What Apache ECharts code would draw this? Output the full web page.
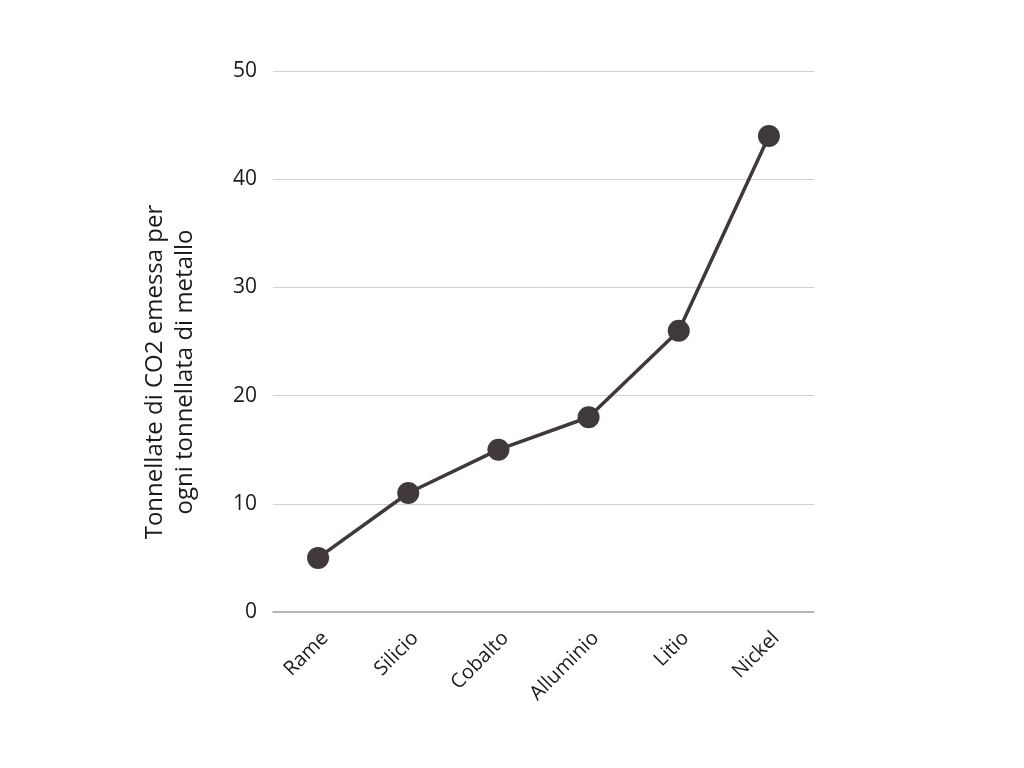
<!DOCTYPE html>
<html><head><meta charset="utf-8">
<script src="https://cdn.jsdelivr.net/npm/echarts@6/dist/echarts.min.js"></script>
<style>html,body{margin:0;padding:0;background:#fff}#c{width:1024px;height:768px}</style>
</head><body><div id="c"></div>
<script>
const categories = ['Rame','Silicio','Cobalto','Alluminio','Litio','Nickel'];
const values = [5, 11, 15, 18, 26, 44];
const yTicks = [0, 10, 20, 30, 40, 50];
const yTitle = 'Tonnellate di CO2 emessa per\nogni tonnellata di metallo';

const chart = echarts.init(document.getElementById('c'));
chart.setOption({
  backgroundColor: '#fff',
  textStyle: { fontFamily: 'Open Sans' },
  grid: { left: 273, right: 210, top: 71, bottom: 156 },
  xAxis: {
    type: 'category', data: categories, boundaryGap: true,
    axisLine: { lineStyle: { color: '#a6a6a6', width: 1.5 } },
    axisTick: { show: false },
    axisLabel: { rotate: 45, color: '#1a1a1a', fontSize: 20, fontFamily: 'Open Sans', margin: 16, verticalAlign: 'top' }
  },
  yAxis: {
    type: 'value', min: yTicks[0], max: yTicks[yTicks.length - 1], interval: 10,
    axisLine: { show: false }, axisTick: { show: false },
    splitLine: { lineStyle: { color: '#d0d0d0', width: 1 } },
    axisLabel: { color: '#1a1a1a', fontSize: 21, fontFamily: 'Open Sans', margin: 16 }
  },
  graphic: [{
    type: 'text', x: 170, y: 372, rotation: Math.PI / 2,
    style: {
      text: yTitle, fill: '#1a1a1a', fontSize: 24, fontFamily: 'Open Sans',
      align: 'center', verticalAlign: 'middle', lineHeight: 30
    }
  }],
  series: [{
    type: 'line', data: values,
    symbol: 'circle', symbolSize: 22,
    lineStyle: { color: '#3f393a', width: 3.5 },
    itemStyle: { color: '#3f393a' },
    animation: false
  }]
});
</script></body></html>
